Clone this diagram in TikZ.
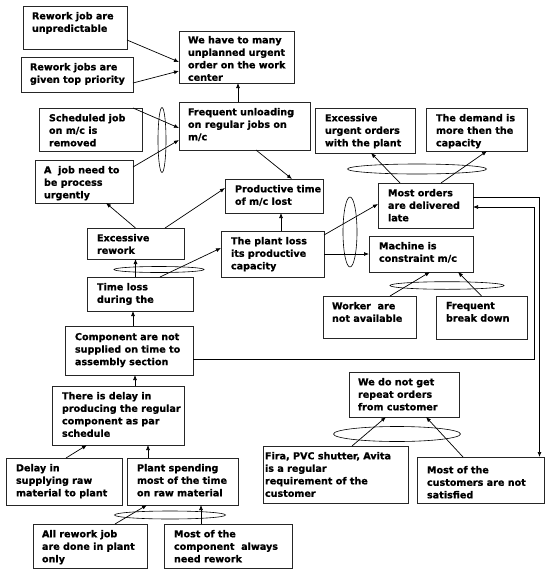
\documentclass[tikz,border=0pt]{standalone}
\usepackage{fontspec}
\setmainfont{DejaVu Sans}[BoldFeatures={FakeBold=0.8}]
\usetikzlibrary{arrows.meta,shapes.geometric}
\tikzset{
  boxst/.style={draw=black!85, line width=0.7pt, rectangle, inner sep=0pt, outer sep=0pt},
  txtst/.style={anchor=north west, inner sep=0pt, outer sep=0pt, align=left,
     font=\fontsize{9.6}{12.5}\selectfont\bfseries},
  arr/.style={draw=black, line width=0.7pt, -{Latex[length=5pt,width=4pt]}},
  ellst/.style={draw=black, line width=0.6pt, ellipse, inner sep=0pt, outer sep=0pt}
}
% name, x1, y1, x2, y2, dx, dy, text
\newcommand\mybox[8]{%
  \node[boxst, minimum width={(#4)-(#2)}, minimum height={(#5)-(#3)}] (#1) at ({((#2)+(#4))/2},{((#3)+(#5))/2}) {};
  \node[txtst] (#1t) at ({(#2)+(#6)},{(#3)+(#7)}) {#8};}
\newcommand\myell[5]{%
  \node[ellst, minimum width={2*(#4)}, minimum height={2*(#5)}] (#1) at (#2,#3) {};}
\begin{document}
\begin{tikzpicture}[x=1pt,y=-1pt]
\useasboundingbox (0,0) rectangle (550,574);
\mybox{ruj}{23}{6}{127}{49}{9}{6}{Rework job are\\unpredictable}
\mybox{rjp}{21}{57}{133}{92}{9}{6}{Rework jobs are\\given top priority}
\mybox{wh}{179}{31}{294}{83}{9}{5}{We have to many\\unplanned urgent\\order on the work\\center}
\mybox{fu}{179}{102}{310}{150}{9}{6}{Frequent unloading\\on regular jobs on\\m/c}
\mybox{sj}{39}{108}{142}{151}{10}{6}{Scheduled job\\on m/c is\\removed}
\mybox{aj}{35}{160}{133}{203}{9}{6}{A\ \ job need to\\be process\\urgently}
\mybox{euo}{315}{108}{415}{153}{10}{6}{Excessive\\urgent orders\\with the plant}
\mybox{dm}{426}{108}{527}{151}{10}{6}{The demand is\\more then the\\capacity}
\mybox{pt}{225}{179}{323}{213}{10}{6}{Productive time\\of m/c lost}
\mybox{mo}{378}{183}{473}{228}{10}{6}{Most orders\\are delivered\\late}
\mybox{er}{87}{228}{184}{259}{10}{6}{Excessive\\rework}
\mybox{pl}{221}{231}{324}{277}{10}{6}{The plant loss\\its productive\\capacity}
\mybox{mc}{369}{236}{473}{272}{10}{6}{Machine is\\constraint m/c}
\mybox{tl}{87}{277}{193}{311}{10}{6}{Time loss\\during the}
\mybox{wk}{323}{296}{416}{338}{9}{6}{Worker\ \ are\\not available}
\mybox{fb}{436}{296}{527}{339}{10}{6}{Frequent\\break down}
\mybox{cp}{65}{326}{193}{375}{10}{7}{Component are not\\supplied on time to\\assembly section}
\mybox{dl}{52}{386}{184}{445}{10}{6}{There is delay in\\producing the regular\\component as par\\schedule}
\mybox{wn}{349}{372}{459}{417}{9}{6}{We do not get\\repeat orders\\from customer}
\mybox{ds}{6}{458}{122}{505}{10}{6}{Delay in\\supplying raw\\material to plant}
\mybox{ps}{127}{458}{238}{505}{10}{6}{Plant spending\\most of the time\\on raw material}
\mybox{fr}{263}{446}{408}{503}{2}{6}{Fira, PVC shutter, Avita\\is a regular\\requirement of the\\customer}
\mybox{mcs}{417}{457}{544}{503}{10}{9}{Most of the\\customers are not\\satisfied}
\mybox{ar}{33}{524}{147}{568}{9}{6}{All rework job\\are done in plant\\only}
\mybox{mr}{164}{524}{292}{568}{10}{6}{Most of the\\component\ \ always\\need rework}
% ellipses
\myell{e1}{162}{140}{4}{32.5}
\myell{e2}{417}{169}{69.5}{5}
\myell{e3}{350}{232}{7}{35}
\myell{e4}{447}{285.5}{57}{3.8}
\myell{e5}{159}{269.5}{45}{3}
\myell{e6}{170}{515}{55.5}{4}
\myell{e7}{397}{434}{63.5}{7.5}
\coordinate (railA) at (534,0);
% connectors
\draw[arr] ([yshift=-12.5pt]ruj.east) -- ([yshift=-5pt]wh.west);
\draw[arr] ([yshift=-8.5pt]rjp.east) -- ([yshift=-14pt]wh.west);
\draw[arr] ([xshift=1.5pt]wh.south |- fu.north) -- ([xshift=1.5pt]wh.south);
\draw[arr] ([xshift=-9pt]sj.north east) -- ([yshift=-2pt]fu.west);
\draw[arr] ([yshift=-7pt]aj.north east) -- ([yshift=-14pt]fu.west);
\draw[arr] ([xshift=11.5pt]fu.south) -- ([xshift=18pt]pt.north);
\draw[arr] (er.north) -- ([xshift=22pt]aj.south);
\draw[arr] ([xshift=29.5pt]er.north) -- ([yshift=8pt]pt.west);
\draw[arr] ([xshift=7pt]pt.south |- pl.north) -- ([xshift=7pt]pt.south);
\draw[arr] ([yshift=-4pt]pl.north east) -- ([yshift=1.5pt]mo.west);
\draw[arr] (pl.east) -- (mc.west);
\draw[arr] ([xshift=-25.5pt]mo.north) -- ([xshift=6pt]euo.south);
\draw[arr] ([xshift=15.5pt]mo.north) -- ([xshift=10.5pt]dm.south);
\draw[arr] ([xshift=20.5pt]wk.north) -- ([xshift=9pt]mc.south);
\draw[arr] (fb.north) -- ([xshift=37pt]mc.south);
\draw[arr] (er.south |- tl.north) -- (er.south);
\draw[arr] ([xshift=20pt]tl.north) -- ([yshift=6pt]pl.west);
\draw[arr] ([xshift=4pt]cp.north) -- ([xshift=4pt]cp.north |- tl.south);
\draw[arr] ([xshift=17pt]dl.north) -- ([xshift=17pt]dl.north |- cp.south);
\draw[arr] ([xshift=2pt]ds.north) -- ([xshift=-31pt]dl.south);
\draw[arr] ([xshift=30pt]dl.south |- ps.north) -- ([xshift=30pt]dl.south);
\draw[arr] ([xshift=25pt]ar.north) -- ([xshift=-35.5pt]ps.south);
\draw[arr] ([xshift=18.5pt]ps.south |- mr.north) -- ([xshift=18.5pt]ps.south);
\draw[arr] ([yshift=-8.5pt]cp.east) -- ([yshift=-8.5pt]cp.east -| railA) |- ([yshift=-1.5pt]mo.east);
\draw[arr] ([yshift=8.5pt]mo.east) -| ([xshift=-4.5pt]mcs.north east);
\draw[arr] ([xshift=16.5pt]fr.north) -- ([xshift=-18pt]wn.south);
\draw[arr] ([xshift=-17.5pt]mcs.north) -- ([xshift=22pt]wn.south);
\end{tikzpicture}
\end{document}
